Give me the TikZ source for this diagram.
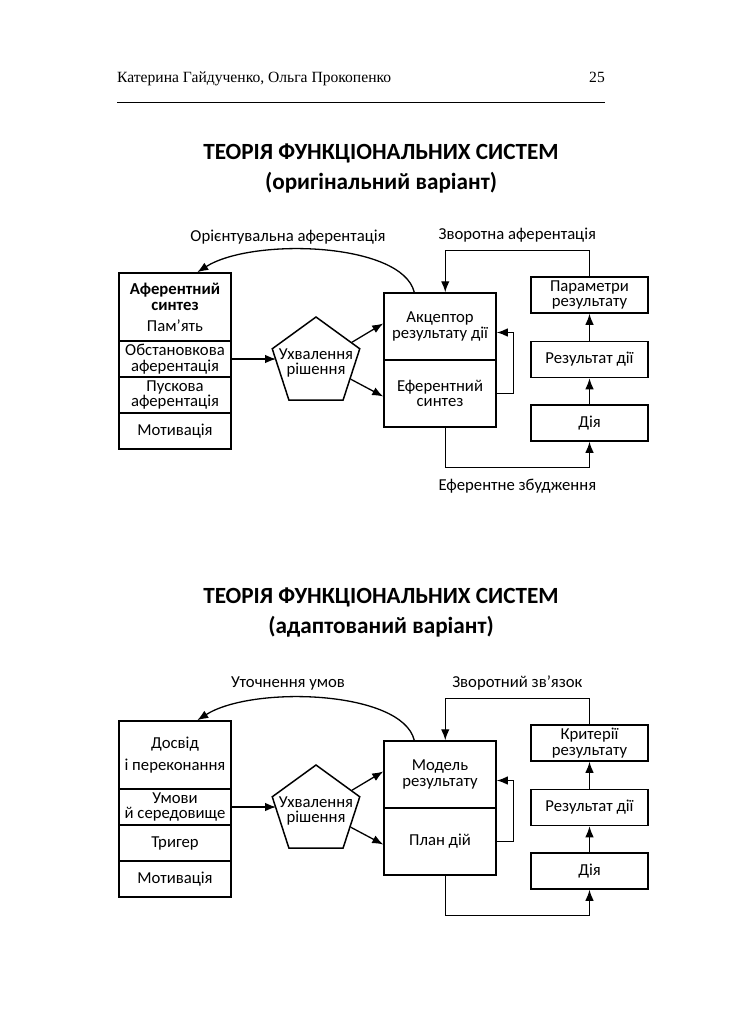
\documentclass[tikz,border=0pt]{standalone}
\usepackage{fontspec}
\setmainfont{Carlito}
\newfontfamily\headfont{Liberation Serif}
\usetikzlibrary{shapes.geometric,arrows.meta}

\newcommand{\boxfont}{\fontsize{16.7}{15.5}\selectfont\lineskiplimit=-20pt}

\tikzset{
    box/.style={draw, line width=1.5pt, minimum width=112pt, align=center,
        inner sep=1pt, font=\boxfont},
    rbox/.style={box, minimum width=117pt, minimum height=36pt},
    pent/.style={draw, line width=1.5pt, regular polygon, regular polygon sides=5,
        minimum size=92pt, inner sep=0pt},
    arr/.style={-{Latex[length=11pt,width=8.5pt]}, line width=1.3pt},
    lbl/.style={font=\boxfont},
    ttl/.style={align=center, font=\bfseries\fontsize{23.2}{30}\selectfont}
}

\begin{document}
\begin{tikzpicture}[x=1pt, y=-1pt]
    \fill[white] (0,0) rectangle (737,1024);

    % page header
    \node[anchor=base west, inner sep=0pt, font=\headfont\fontsize{15.6}{18}\selectfont] (auth) at (117,83) {Катерина Гайдученко, Ольга Прокопенко};
    \node[anchor=base east, inner sep=0pt, font=\headfont\fontsize{15.6}{18}\selectfont] (page) at (605,83) {25};
    \draw[line width=0.8pt] (117,102) -- (605,102);

    % original variant
    \node[ttl] (title1) at (381,168) {ТЕОРІЯ ФУНКЦІОНАЛЬНИХ СИСТЕМ\\(оригінальний варіант)};

    \node[box, minimum height=68pt] (aff1) at (175,307) {\textbf{Аферентний}\\[1pt]\textbf{синтез}\\[5pt]Пам’ять};
    \node[box, minimum height=36pt] (env1) at (175,359) {Обстановкова\\аферентація};
    \node[box, minimum height=36pt] (trg1) at (175,395) {Пускова\\аферентація};
    \node[box, minimum height=36pt] (mot1) at (175,431) {Мотивація};

    \node[pent, label={[lbl, align=center]center:Ухвалення\\рішення}] (dec1) at (316,363) {};

    \node[box, minimum height=67pt] (acc1) at (440,326.5) {Акцептор\\результату дії};
    \node[box, minimum height=67pt] (eff1) at (440,393.5) {Еферентний\\синтез};

    \node[rbox] (par1) at (589.5,295) {Параметри\\результату};
    \node[rbox] (res1) at (589.5,359.5) {Результат дії};
    \node[rbox] (act1) at (589.5,423) {Дія};

    \node[lbl] (ori1) at (288,237) {Орієнтувальна аферентація};

    \draw[arr] (env1.east) -- (env1.east -| dec1.west);
    \draw[arr] (dec1.30) -- ([yshift=3pt]acc1.west);
    \draw[arr] (dec1.-25) -- ([yshift=-3pt]eff1.west);
    \draw[arr] (eff1.east) -- ++(17,0) |- ([yshift=-6pt]acc1.east);
    \draw[arr] (act1.north) -- (res1.south);
    \draw[arr] (res1.north) -- (par1.south);
    \draw[arr] (par1.north) -- ++(0,-26) -| node[pos=0.25, lbl, above=4pt] {Зворотна аферентація} ([xshift=62pt]acc1.north west);
    \draw[arr] ([xshift=62pt]eff1.south west) -- ++(0,40) -| node[pos=0.25, lbl, below=7pt] {Еферентне збудження} (act1.south);
    \draw[arr] ([xshift=31pt]acc1.north west) .. controls +(-12,-50) and +(55,-35) .. ([xshift=79pt]aff1.north west);

    % adapted variant
    \node[ttl] (title2) at (381,613) {ТЕОРІЯ ФУНКЦІОНАЛЬНИХ СИСТЕМ\\(адаптований варіант)};

    \begin{scope}[shift={(0,448)}]
        \node[box, minimum height=68pt] (aff2) at (175,307) {Досвід\\[6pt]і переконання};
        \node[box, minimum height=36pt] (env2) at (175,359) {Умови\\й середовище};
        \node[box, minimum height=36pt] (trg2) at (175,395) {Тригер};
        \node[box, minimum height=36pt] (mot2) at (175,431) {Мотивація};

        \node[pent, label={[lbl, align=center]center:Ухвалення\\рішення}] (dec2) at (316,363) {};

        \node[box, minimum height=67pt] (acc2) at (440,326.5) {Модель\\результату};
        \node[box, minimum height=67pt] (eff2) at (440,393.5) {План дій};

        \node[rbox] (par2) at (589.5,295) {Критерії\\результату};
        \node[rbox] (res2) at (589.5,359.5) {Результат дії};
        \node[rbox] (act2) at (589.5,423) {Дія};

        \node[lbl] (ori2) at (288,235) {Уточнення умов};

        \draw[arr] (env2.east) -- (env2.east -| dec2.west);
        \draw[arr] (dec2.30) -- ([yshift=3pt]acc2.west);
        \draw[arr] (dec2.-25) -- ([yshift=-3pt]eff2.west);
        \draw[arr] (eff2.east) -- ++(17,0) |- ([yshift=-6pt]acc2.east);
        \draw[arr] (act2.north) -- (res2.south);
        \draw[arr] (res2.north) -- (par2.south);
        \draw[arr] (par2.north) -- ++(0,-26) -| node[pos=0.25, lbl, above=4pt] {Зворотний зв’язок} ([xshift=62pt]acc2.north west);
        \draw[arr] ([xshift=62pt]eff2.south west) -- ++(0,40) -| (act2.south);
        \draw[arr] ([xshift=31pt]acc2.north west) .. controls +(-12,-50) and +(55,-35) .. ([xshift=79pt]aff2.north west);
    \end{scope}
\end{tikzpicture}
\end{document}
